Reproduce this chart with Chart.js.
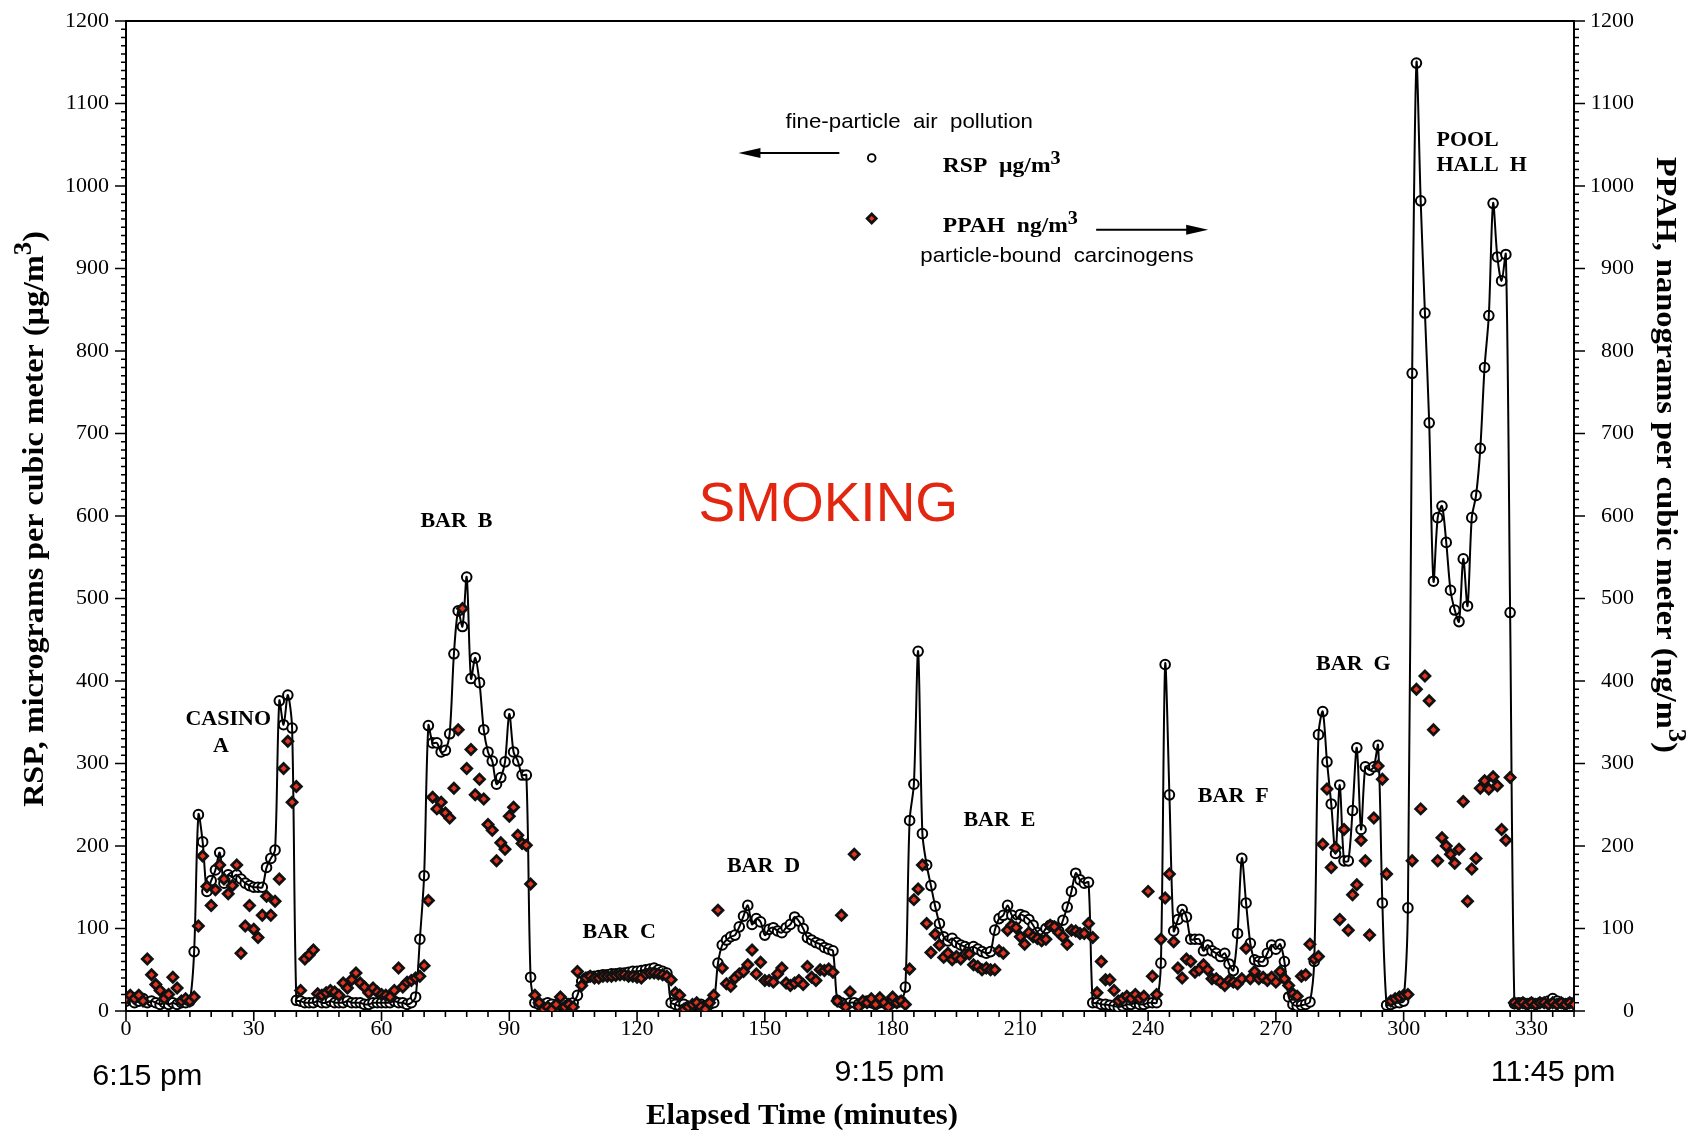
<!DOCTYPE html>
<html>
<head>
<meta charset="utf-8">
<title>Smoking venues - RSP and PPAH</title>
<script src="https://cdn.jsdelivr.net/npm/chart.js@4.4.1/dist/chart.umd.min.js"></script>
<style>
  html, body { margin: 0; padding: 0; background: #fff; }
  #wrap { width: 1688px; height: 1133px; }
</style>
</head>
<body>
<div id="wrap"><canvas id="smokingChart" width="1688" height="1133"></canvas></div>
<script>
// One reading per elapsed minute, 0 .. 340
const rspValues = [
  12, 15, 10, 12, 15, 10, 12, 10, 8, 10,
  8, 10, 8, 10, 10, 12, 72, 238, 205, 145,
  158, 171, 192, 155, 165, 162, 165, 160, 155, 152,
  150, 150, 150, 174, 185, 195, 376, 347, 383, 343,
  13, 12, 10, 10, 10, 12, 10, 10, 12, 10,
  10, 10, 12, 10, 10, 10, 8, 8, 10, 10,
  10, 10, 10, 12, 10, 10, 8, 10, 17, 87,
  164, 346, 325, 325, 314, 316, 336, 433, 485, 466,
  526, 403, 428, 398, 341, 314, 303, 275, 283, 302,
  360, 314, 303, 286, 286, 41, 10, 8, 8, 10,
  8, 5, 8, 10, 8, 10, 19, 36, 40, 42,
  42, 43, 44, 44, 45, 45, 46, 46, 47, 48,
  48, 49, 50, 51, 52, 50, 48, 46, 10, 8,
  6, 8, 5, 6, 8, 8, 6, 8, 10, 58,
  80, 86, 90, 92, 102, 115, 128, 105, 112, 108,
  92, 99, 101, 97, 95, 101, 105, 114, 109, 100,
  89, 86, 83, 81, 77, 75, 73, 13, 10, 8,
  10, 10, 8, 10, 12, 10, 8, 10, 10, 8,
  10, 10, 12, 29, 231, 275, 436, 215, 177, 152,
  127, 106, 90, 85, 88, 83, 80, 78, 76, 78,
  75, 72, 70, 72, 98, 112, 116, 128, 116, 111,
  117, 115, 111, 104, 95, 93, 100, 104, 102, 97,
  110, 126, 145, 167, 159, 155, 156, 10, 10, 8,
  8, 7, 6, 5, 6, 8, 8, 10, 8, 8,
  10, 10, 10, 58, 420, 262, 97, 111, 123, 114,
  87, 87, 87, 73, 80, 73, 70, 66, 70, 57,
  49, 94, 185, 131, 82, 62, 60, 60, 70, 80,
  75, 81, 60, 17, 8, 6, 7, 8, 11, 60,
  335, 363, 302, 251, 191, 274, 182, 182, 243, 319,
  220, 296, 292, 296, 322, 131, 7, 8, 10, 10,
  12, 125, 773, 1149, 982, 846, 713, 521, 598, 612,
  568, 510, 486, 472, 548, 491, 598, 625, 682, 780,
  843, 979, 914, 885, 917, 483, 9, 10, 10, 8,
  10, 8, 10, 10, 12, 15, 12, 10, 8, 10, 10
];

const ppahValues = [
  15, 19, 15, 19, 12, 63, 44, 32, 25, 15,
  20, 41, 28, 12, 15, 12, 17, 103, 188, 151,
  128, 147, 177, 160, 142, 152, 177, 70, 103, 128,
  99, 89, 116, 139, 116, 133, 160, 294, 327, 253,
  272, 25, 63, 68, 74, 21, 19, 22, 25, 23,
  19, 34, 28, 38, 46, 34, 29, 22, 28, 23,
  20, 19, 17, 25, 52, 29, 35, 37, 40, 42,
  55, 134, 259, 245, 253, 240, 234, 270, 341, 488,
  294, 317, 262, 281, 257, 226, 219, 182, 204, 196,
  236, 247, 213, 203, 201, 154, 19, 10, 2, 5,
  2, 8, 17, 5, 8, 5, 48, 31, 40, 42,
  40, 40, 42, 42, 42, 43, 44, 44, 42, 42,
  41, 40, 45, 46, 46, 45, 44, 42, 38, 22,
  19, 2, 5, 8, 10, 5, 2, 10, 19, 122,
  52, 33, 30, 40, 45, 48, 56, 74, 45, 59,
  37, 37, 35, 45, 52, 34, 31, 34, 37, 32,
  54, 41, 37, 50, 49, 51, 47, 12, 116, 5,
  23, 190, 5, 12, 10, 15, 8, 16, 10, 5,
  17, 10, 12, 8, 51, 135, 148, 177, 106, 71,
  93, 80, 65, 70, 62, 66, 63, 69, 69, 56,
  54, 50, 52, 50, 50, 73, 70, 98, 104, 101,
  90, 81, 95, 90, 88, 85, 87, 104, 102, 95,
  90, 81, 98, 97, 94, 94, 106, 89, 22, 60,
  38, 38, 25, 12, 15, 18, 15, 20, 15, 18,
  145, 42, 20, 87, 137, 166, 84, 52, 40, 63,
  60, 47, 50, 56, 50, 39, 39, 35, 31, 37,
  35, 33, 39, 76, 39, 48, 39, 41, 37, 41,
  35, 48, 39, 31, 21, 18, 42, 44, 81, 63,
  66, 202, 269, 174, 198, 111, 220, 98, 141, 153,
  207, 182, 92, 234, 297, 281, 166, 12, 15, 17,
  19, 20, 182, 390, 245, 406, 376, 341, 182, 210,
  200, 190, 179, 196, 254, 133, 172, 185, 270, 279,
  269, 284, 273, 220, 207, 283, 10, 8, 10, 8,
  10, 8, 10, 10, 8, 10, 8, 10, 8, 10, 8
];

const xTickValues = [0, 30, 60, 90, 120, 150, 180, 210, 240, 270, 300, 330];
const yTickValues = [0, 100, 200, 300, 400, 500, 600, 700, 800, 900, 1000, 1100, 1200];

const clockLabels = ['6:15 pm', '9:15 pm', '11:45 pm'];
const clockMinutes = [5, 179.3, 335.1];

const rspPoints = rspValues.map((v, i) => ({ x: i, y: v }));
const ppahPoints = ppahValues.map((v, i) => ({ x: i, y: v }));

const serif = '"Liberation Serif", "Times New Roman", serif';
const sans = '"Liberation Sans", Arial, sans-serif';
const PLOT_TOP = 21;

// venue labels, placed in data units
const venueNotes = [
  { text: 'CASINO', x: 24.0, y: 353, align: 'center' },
  { text: 'A', x: 22.3, y: 320, align: 'center' },
  { text: 'BAR  B', x: 77.6, y: 593, align: 'center' },
  { text: 'BAR  C', x: 115.8, y: 95, align: 'center' },
  { text: 'BAR  D', x: 149.7, y: 175, align: 'center' },
  { text: 'BAR  E', x: 205.1, y: 230, align: 'center' },
  { text: 'BAR  F', x: 260, y: 259, align: 'center' },
  { text: 'BAR  G', x: 288.2, y: 420, align: 'center' },
  { text: 'POOL', x: 307.7, y: 1055, align: 'left' },
  { text: 'HALL  H', x: 307.7, y: 1024, align: 'left' }
];

// draw a run of text pieces, some of them raised superscripts
function drawText(ctx, parts, x, y, opts) {
  if (typeof parts === 'string') parts = [{ t: parts }];
  const font = opts.font;
  const supFont = opts.supFont || font;
  const stretch = opts.stretch || 1;
  ctx.save();
  ctx.translate(x, y);
  if (opts.rotate) ctx.rotate(opts.rotate);
  ctx.scale(stretch, 1);
  ctx.fillStyle = opts.color || '#000';
  ctx.textAlign = 'left';
  ctx.textBaseline = 'middle';
  let w = 0;
  parts.forEach(p => { ctx.font = p.sup ? supFont : font; w += ctx.measureText(p.t).width; });
  let cx = opts.align === 'center' ? -w / 2 : opts.align === 'right' ? -w : 0;
  parts.forEach(p => {
    ctx.font = p.sup ? supFont : font;
    ctx.fillText(p.t, cx, p.sup ? -(opts.raise || 0) : 0);
    cx += ctx.measureText(p.t).width;
  });
  ctx.restore();
}

function drawArrow(ctx, x0, y0, x1, y1) {
  const dir = Math.sign(x1 - x0);
  ctx.save();
  ctx.strokeStyle = '#000';
  ctx.fillStyle = '#000';
  ctx.lineWidth = 2;
  ctx.beginPath();
  ctx.moveTo(x0, y0);
  ctx.lineTo(x1 - dir * 14, y1);
  ctx.stroke();
  ctx.beginPath();
  ctx.moveTo(x1, y1);
  ctx.lineTo(x1 - dir * 22, y1 - 5);
  ctx.lineTo(x1 - dir * 22, y1 + 5);
  ctx.closePath();
  ctx.fill();
  ctx.restore();
}

const frameAndNotes = {
  id: 'frameAndNotes',
  afterDraw(chart) {
    const { ctx, chartArea: a } = chart;
    const { x, y, y2 } = chart.scales;
    ctx.save();

    // top frame line
    ctx.strokeStyle = '#000';
    ctx.lineWidth = 2;
    ctx.beginPath();
    ctx.moveTo(a.left, a.top);
    ctx.lineTo(a.right, a.top);
    ctx.stroke();

    // outward tick marks, minor and major
    ctx.lineWidth = 1.6;
    ctx.beginPath();
    for (let m = 0; m <= 340; m += 5) {
      const px = x.getPixelForValue(m);
      const len = m % 30 === 0 ? 10 : 6;
      ctx.moveTo(px, a.bottom);
      ctx.lineTo(px, a.bottom + len);
    }
    for (let v = 0; v <= 1200; v += 10) {
      const len = v % 100 === 0 ? 11 : 5;
      const py = y.getPixelForValue(v);
      ctx.moveTo(a.left, py);
      ctx.lineTo(a.left - len, py);
      const py2 = y2.getPixelForValue(v);
      ctx.moveTo(a.right, py2);
      ctx.lineTo(a.right + len, py2);
    }
    ctx.stroke();

    // venue labels
    venueNotes.forEach(n => {
      drawText(ctx, n.text, x.getPixelForValue(n.x), y.getPixelForValue(n.y),
        { font: 'bold 20px ' + serif, align: n.align, stretch: 1.1 });
    });

    drawText(ctx, 'SMOKING', x.getPixelForValue(164.9), y.getPixelForValue(612),
      { font: '55px ' + sans, align: 'center', color: '#e2260f' });

    // legend block
    drawText(ctx, 'fine-particle  air  pollution', x.getPixelForValue(183.9), y.getPixelForValue(1077),
      { font: '21px ' + sans, align: 'center', stretch: 1.06 });
    drawArrow(ctx, x.getPixelForValue(167.5), y.getPixelForValue(1040), x.getPixelForValue(143.8), y.getPixelForValue(1040));

    ctx.beginPath();
    ctx.arc(x.getPixelForValue(175.1), y.getPixelForValue(1034), 3.8, 0, Math.PI * 2);
    ctx.fillStyle = '#fff';
    ctx.fill();
    ctx.lineWidth = 1.9;
    ctx.strokeStyle = '#000';
    ctx.stroke();

    drawText(ctx, [{ t: 'RSP  µg/m' }, { t: '3', sup: true }], x.getPixelForValue(191.8), y.getPixelForValue(1024),
      { font: 'bold 21px ' + serif, supFont: 'bold 18px ' + serif, raise: 7, stretch: 1.12 });

    const dx = x.getPixelForValue(175.1), dy = y.getPixelForValue(960.5);
    ctx.beginPath();
    ctx.moveTo(dx - 4.5, dy); ctx.lineTo(dx, dy - 4.5); ctx.lineTo(dx + 4.5, dy); ctx.lineTo(dx, dy + 4.5);
    ctx.closePath();
    ctx.fillStyle = '#e4331f';
    ctx.fill();
    ctx.lineWidth = 2.8;
    ctx.strokeStyle = '#111';
    ctx.stroke();

    drawText(ctx, [{ t: 'PPAH  ng/m' }, { t: '3', sup: true }], x.getPixelForValue(191.8), y.getPixelForValue(951),
      { font: 'bold 21px ' + serif, supFont: 'bold 18px ' + serif, raise: 7, stretch: 1.12 });
    drawArrow(ctx, x.getPixelForValue(227.8), y.getPixelForValue(947), x.getPixelForValue(254.1), y.getPixelForValue(947));
    drawText(ctx, 'particle-bound  carcinogens', x.getPixelForValue(218.6), y.getPixelForValue(915),
      { font: '21px ' + sans, align: 'center', stretch: 1.06 });

    // clock times under the axis
    clockLabels.forEach((t, i) => {
      drawText(ctx, t, x.getPixelForValue(clockMinutes[i]), a.bottom + (i === 0 ? 66 : 62),
        { font: '29px ' + sans, align: 'center', stretch: 1.05 });
    });

    // axis titles
    drawText(ctx, 'Elapsed Time (minutes)', 802, 1117,
      { font: 'bold 29px ' + serif, align: 'center', stretch: 1.06 });
    drawText(ctx, [{ t: 'RSP, micrograms per cubic meter (µg/m' }, { t: '3', sup: true }, { t: ')' }], 35, 519,
      { font: 'bold 30px ' + serif, supFont: 'bold 25px ' + serif, raise: 10, align: 'center', rotate: -Math.PI / 2, stretch: 1.07 });
    drawText(ctx, [{ t: 'PPAH, nanograms per cubic meter (ng/m' }, { t: '3', sup: true }, { t: ')' }], 1665, 455,
      { font: 'bold 30px ' + serif, supFont: 'bold 25px ' + serif, raise: 10, align: 'center', rotate: Math.PI / 2, stretch: 1.08 });

    ctx.restore();
  }
};

const tickFont = { family: serif, size: 22 };
const plainNumber = v => String(v);
// vertical axes: no extra label padding at the ends, so the plot top sits at PLOT_TOP
const fitVertical = w => s => { s.width = w; s.paddingTop = 0; s.paddingBottom = 0; };

const chart = new Chart(document.getElementById('smokingChart'), {
  type: 'scatter',
  data: {
    datasets: [
      {
        label: 'PPAH ng/m3',
        data: ppahPoints,
        yAxisID: 'y2',
        showLine: false,
        pointStyle: 'rectRot',
        pointRadius: 5,
        pointBorderWidth: 2.8,
        pointBackgroundColor: '#e4331f',
        pointBorderColor: '#111'
      },
      {
        label: 'RSP curve',
        data: rspPoints,
        yAxisID: 'y',
        showLine: true,
        pointRadius: 0,
        borderColor: '#000',
        borderWidth: 2,
        tension: 0.3
      },
      {
        label: 'RSP ug/m3',
        data: rspPoints,
        yAxisID: 'y',
        showLine: false,
        pointStyle: 'circle',
        pointRadius: 4.8,
        pointBorderWidth: 2,
        pointBackgroundColor: '#fff',
        pointBorderColor: '#000'
      }
    ]
  },
  options: {
    responsive: false,
    animation: false,
    layout: { padding: { top: PLOT_TOP, right: 54, left: 0, bottom: 0 } },
    plugins: {
      legend: { display: false },
      tooltip: { enabled: false }
    },
    scales: {
      x: {
        type: 'linear',
        min: 0,
        max: 340,
        afterBuildTicks: s => { s.ticks = xTickValues.map(v => ({ value: v })); },
        afterFit: s => { s.height = 122; s.paddingLeft = 0; s.paddingRight = 0; },
        grid: { display: false, drawTicks: false },
        border: { display: true, color: '#000', width: 2 },
        ticks: { padding: 5, color: '#000', font: tickFont, maxRotation: 0, autoSkip: false, callback: plainNumber }
      },
      y: {
        position: 'left',
        min: 0,
        max: 1200,
        afterBuildTicks: s => { s.ticks = yTickValues.map(v => ({ value: v })); },
        afterFit: fitVertical(126),
        grid: { display: false, drawTicks: false },
        border: { display: true, color: '#000', width: 2 },
        ticks: { padding: 17, color: '#000', font: tickFont, autoSkip: false, callback: plainNumber }
      },
      y2: {
        position: 'right',
        min: 0,
        max: 1200,
        afterBuildTicks: s => { s.ticks = yTickValues.map(v => ({ value: v })); },
        afterFit: fitVertical(60),
        grid: { display: false, drawTicks: false },
        border: { display: true, color: '#000', width: 2 },
        ticks: { padding: 14, color: '#000', font: tickFont, autoSkip: false, crossAlign: 'far', callback: plainNumber }
      }
    }
  },
  plugins: [frameAndNotes]
});

// if the layout still pushed the plot down, pull it back to the reference top edge
const extraTop = chart.chartArea.top - PLOT_TOP;
if (Math.abs(extraTop) > 0.5) {
  chart.options.layout.padding.top = PLOT_TOP - extraTop;
  chart.update();
}
</script>
</body>
</html>
